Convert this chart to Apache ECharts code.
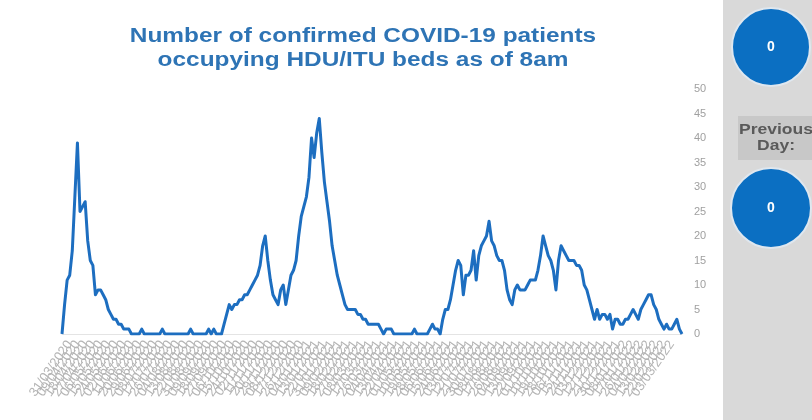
<!DOCTYPE html>
<html>
<head>
<meta charset="utf-8">
<script src="https://cdn.jsdelivr.net/npm/echarts@6/dist/echarts.min.js"></script>
<style>
  html, body { margin: 0; padding: 0; background: #ffffff; }
  #chart { width: 812px; height: 420px; }
</style>
</head>
<body>
<div id="chart"></div>
<script>
// Reporting dates: one reading every third day from 22/03/2020
const startDate = new Date(2020, 2, 22);
const stepDays = 3;

// Confirmed COVID-19 patients in HDU/ITU beds at 8am
const patients = [
  0, 6, 11, 12, 17, 28, 39, 25, 26, 27,
  19, 15, 14, 8, 9, 9, 8, 7, 5, 4,
  3, 3, 2, 2, 1, 1, 1, 0, 0, 0,
  0, 1, 0, 0, 0, 0, 0, 0, 0, 1,
  0, 0, 0, 0, 0, 0, 0, 0, 0, 0,
  1, 0, 0, 0, 0, 0, 0, 1, 0, 1,
  0, 0, 0, 2, 4, 6, 5, 6, 6, 7,
  7, 8, 8, 9, 10, 11, 12, 14, 18, 20,
  15, 11, 8, 7, 6, 9, 10, 6, 9, 12,
  13, 15, 20, 24, 26, 28, 32, 40, 36, 41,
  44, 37, 31, 27, 23, 18, 15, 12, 10, 8,
  6, 5, 5, 5, 5, 4, 4, 3, 3, 2,
  2, 2, 2, 2, 1, 0, 1, 1, 1, 0,
  0, 0, 0, 0, 0, 0, 0, 1, 0, 0,
  0, 0, 0, 1, 2, 1, 1, 0, 3, 5,
  5, 7, 10, 13, 15, 14, 8, 12, 12, 13,
  17, 11, 16, 18, 19, 20, 23, 19, 18, 16,
  15, 15, 13, 9, 7, 6, 9, 10, 9, 9,
  9, 10, 11, 11, 11, 13, 16, 20, 18, 16,
  15, 13, 9, 15, 18, 17, 16, 15, 15, 15,
  14, 14, 13, 10, 9, 7, 5, 3, 5, 3,
  4, 4, 3, 4, 1, 3, 3, 2, 2, 3,
  3, 4, 5, 4, 3, 5, 6, 7, 8, 8,
  6, 5, 3, 2, 1, 2, 1, 1, 2, 3,
  1, 0
];

// Side panel figures
const todayBeds = [0];
const previousDayBeds = [0];
const previousDayLabel = ['Previous', 'Day:'];

const titleLines = ['Number of confirmed COVID-19 patients', 'occupying HDU/ITU beds as of 8am'];

function pad(n) { return n < 10 ? '0' + n : '' + n; }
const dates = patients.map(function (_, i) {
  const d = new Date(startDate.getFullYear(), startDate.getMonth(), startDate.getDate() + i * stepDays);
  return pad(d.getDate()) + '/' + pad(d.getMonth() + 1) + '/' + d.getFullYear();
});

const chart = echarts.init(document.getElementById('chart'), null, { renderer: 'canvas' });

const blue = '#1d6ec0';
const circleFill = '#0b6fc2';

chart.setOption({
  animation: false,
  backgroundColor: '#ffffff',
  grid: { left: 62, right: 130, top: 89, bottom: 86, containLabel: false },
  xAxis: {
    type: 'category',
    data: dates,
    boundaryGap: false,
    axisLine: { show: true, lineStyle: { color: '#e4e4e4', width: 1 } },
    axisTick: { show: false },
    axisLabel: {
      interval: 2,
      rotate: 55,
      fontSize: 13,
      color: '#b4b4b4',
      margin: 8,
      fontFamily: 'Liberation Sans, Arial, sans-serif'
    },
    splitLine: { show: false }
  },
  yAxis: {
    type: 'value',
    position: 'right',
    min: 0,
    max: 50,
    interval: 5,
    axisLine: { show: false },
    axisTick: { show: false },
    splitLine: { show: false },
    axisLabel: {
      color: '#a0a0a0',
      fontSize: 11,
      margin: 12,
      align: 'left',
      fontFamily: 'Liberation Sans, Arial, sans-serif'
    }
  },
  series: [{
    type: 'line',
    data: patients,
    showSymbol: false,
    symbol: 'none',
    lineStyle: { color: blue, width: 3, join: 'round' },
    itemStyle: { color: blue }
  }],
  graphic: [
    {
      type: 'text',
      x: 363,
      y: 24,
      scaleX: 1.22,
      style: {
        text: titleLines.join('\n'),
        font: 'bold 20px "Liberation Sans", Arial, sans-serif',
        fill: '#2e74b5',
        textAlign: 'center',
        lineHeight: 24
      }
    },
    // side panel
    {
      type: 'rect',
      shape: { x: 723, y: 0, width: 89, height: 420 },
      style: { fill: '#d9d9d9' },
      z: 1
    },
    {
      type: 'circle',
      shape: { cx: 771, cy: 47, r: 39 },
      style: { fill: circleFill, stroke: '#dfe7ef', lineWidth: 2 },
      z: 2
    },
    {
      type: 'text',
      x: 771,
      y: 47,
      style: {
        text: String(todayBeds[0]),
        font: 'bold 14px "Liberation Sans", Arial, sans-serif',
        fill: '#ffffff',
        textAlign: 'center',
        textVerticalAlign: 'middle'
      },
      z: 3
    },
    {
      type: 'rect',
      shape: { x: 738, y: 116, width: 80, height: 44 },
      style: { fill: '#c8c8c8' },
      z: 2
    },
    {
      type: 'text',
      x: 776,
      y: 138,
      scaleX: 1.25,
      style: {
        text: previousDayLabel.join('\n'),
        font: 'bold 14px "Liberation Sans", Arial, sans-serif',
        fill: '#5a5a5a',
        textAlign: 'center',
        textVerticalAlign: 'middle',
        lineHeight: 16
      },
      z: 3
    },
    {
      type: 'circle',
      shape: { cx: 771, cy: 208, r: 40 },
      style: { fill: circleFill, stroke: '#dfe7ef', lineWidth: 2 },
      z: 2
    },
    {
      type: 'text',
      x: 771,
      y: 208,
      style: {
        text: String(previousDayBeds[0]),
        font: 'bold 14px "Liberation Sans", Arial, sans-serif',
        fill: '#ffffff',
        textAlign: 'center',
        textVerticalAlign: 'middle'
      },
      z: 3
    }
  ]
});
</script>
</body>
</html>
